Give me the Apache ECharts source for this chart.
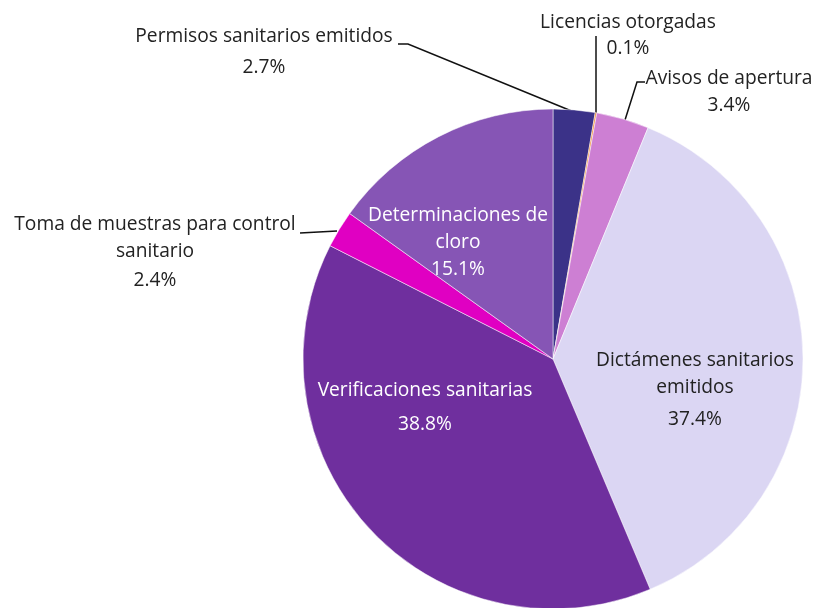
<!DOCTYPE html>
<html>
<head>
<meta charset="utf-8">
<script src="https://cdn.jsdelivr.net/npm/echarts@6/dist/echarts.min.js"></script>
<style>
  html, body { margin: 0; padding: 0; background: #fff; }
  #chart { width: 815px; height: 608px; }
</style>
</head>
<body>
<div id="chart"></div>
<script>
// categorías y porcentajes (sentido horario desde las 12)
const categories = [
  'Permisos sanitarios emitidos',
  'Licencias otorgadas',
  'Avisos de apertura',
  'Dictámenes sanitarios\nemitidos',
  'Verificaciones sanitarias',
  'Toma de muestras para control\nsanitario',
  'Determinaciones de\ncloro'
]
const percents = [2.7, 0.1, 3.4, 37.4, 38.8, 2.4, 15.1]
const colors = ['#3b3288', '#f08a2c', '#cd7fd3', '#dbd6f3', '#6f2f9e', '#e000c2', '#8655b5']
const insideIdx = [3, 4, 6]
const textColors = ['#222', '#222', '#222', '#222', '#fff', '#222', '#fff']

// posición de etiquetas (centro x, top y) y líneas guía
const labelPos = [
  { x: 264, y: 23, line: [[574, 112], [408, 44], [398, 44]] },
  { x: 628, y: 9, line: [[596, 115], [596, 36], [596, 36]] },
  { x: 729, y: 65, line: [[625, 120], [637, 82], [645, 82]] },
  { x: 695, y: 347 },
  { x: 425, y: 377 },
  { x: 155, y: 211, line: [[337, 231], [300, 233], [300, 233]] },
  { x: 458, y: 202 }
]
const pctLineH = [35, 26, 27, 38, 42, 31, 27]
const font = 'Open Sans'
const fs = 19.2

let myChart = echarts.init(document.getElementById('chart'))

let data = categories.map((name, i) => {
  let inside = insideIdx.indexOf(i) >= 0
  return {
    name: name,
    value: percents[i],
    itemStyle: { color: colors[i] },
    label: {
      position: inside ? 'inside' : 'outside',
      color: textColors[i],
      rich: {
        n: { fontSize: fs, lineHeight: 27, color: textColors[i], fontFamily: font },
        p: { fontSize: fs, lineHeight: pctLineH[i], color: textColors[i], fontFamily: font }
      }
    },
    labelLine: { show: !inside }
  }
})

let option = {
  animation: false,
  series: [
    {
      type: 'pie',
      center: [553, 359],
      radius: [0, 250],
      startAngle: 90,
      clockwise: true,
      avoidLabelOverlap: false,
      itemStyle: { borderColor: '#fff', borderWidth: 0.5 },
      label: {
        show: true,
        fontFamily: font,
        fontSize: fs,
        formatter: function (params) {
          let lines = params.name.split('\n').map(l => '{n|' + l + '}')
          return lines.join('\n') + '\n{p|' + params.value.toFixed(1) + '%}'
        },
        align: 'center'
      },
      labelLine: {
        show: true,
        lineStyle: { color: '#111', width: 1.5 }
      },
      labelLayout: function (params) {
        let p = labelPos[params.dataIndex]
        let res = {
          x: p.x,
          y: p.y,
          align: 'center',
          verticalAlign: 'top'
        }
        if (p.line) res.labelLinePoints = p.line
        return res
      },
      data: data
    }
  ]
}
myChart.setOption(option)
</script>
</body>
</html>
